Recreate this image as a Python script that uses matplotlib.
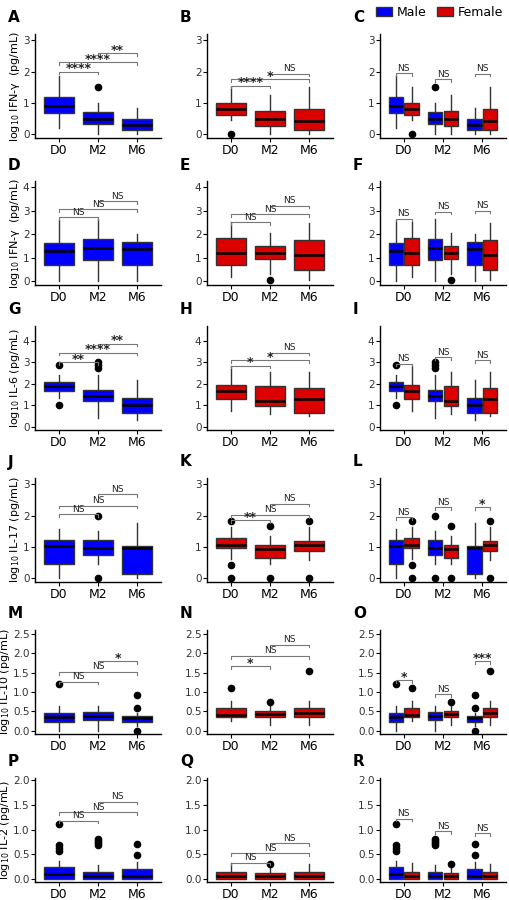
import matplotlib
matplotlib.use("Agg")
import matplotlib.pyplot as plt
from matplotlib.patches import Patch

times = ["D0", "M2", "M6"]
ylabels = ["log$_{10}$ IFN-γ  (pg/mL)", "log$_{10}$ IFN-γ  (pg/mL)", "log$_{10}$ IL-6 (pg/mL)",
           "log$_{10}$ IL-17 (pg/mL)", "log$_{10}$ IL-10 (pg/mL)", "log$_{10}$ IL-2 (pg/mL)"]
letters = "ABCDEFGHIJKLMNOPQR"
ylims = [(-0.12, 3.2), (-0.15, 4.25), (-0.15, 4.7), (-0.12, 3.2), (-0.08, 2.6), (-0.07, 2.05)]
yticks = [[0, 1, 2, 3], [0, 1, 2, 3, 4], [0, 1, 2, 3, 4], [0, 1, 2, 3],
          [0, .5, 1, 1.5, 2, 2.5], [0, .5, 1, 1.5, 2]]

# (q1, median, q3, whisker low, whisker high, fliers)
male = [
    [(.68, .9, 1.18, .2, 1.85, []), (.33, .48, .72, 0, 1.0, [1.5]), (.15, .3, .5, 0, .85, [])],
    [(.7, 1.3, 1.62, 0, 2.6, []), (.9, 1.4, 1.78, 0, 2.65, []), (.68, 1.38, 1.65, 0, 2.02, [])],
    [(1.68, 1.88, 2.1, 1.35, 2.42, [1.0, 2.9]), (1.18, 1.42, 1.72, .42, 2.42, [2.75, 2.9, 3.0]),
     (.65, 1.0, 1.35, .3, 2.2, [])],
    [(.47, 1.02, 1.23, 0, 1.58, []), (.73, .98, 1.23, .45, 1.52, [0, 2.0]), (.15, .97, 1.02, 0, 1.75, [])],
    [(.23, .35, .47, 0, .65, [1.2]), (.27, .38, .49, 0, .65, []), (.24, .32, .38, .12, .47, [0, .6, .92])],
    [(0, .1, .23, 0, .35, [.56, .62, .68, 1.12]), (0, .05, .14, 0, .27, [.68, .72, .76, .8]),
     (0, .05, .19, 0, .33, [.49, .7])],
]
female = [
    [(.6, .8, 1.0, .45, 1.5, [0]), (.25, .48, .75, 0, 1.25, []), (.15, .42, .8, 0, 1.5, [])],
    [(.68, 1.2, 1.85, .2, 2.5, []), (.95, 1.22, 1.52, .3, 2.05, [.05]), (.5, 1.12, 1.75, .05, 2.48, [])],
    [(1.28, 1.65, 1.95, .75, 2.85, []), (.98, 1.18, 1.88, .58, 2.55, []), (.65, 1.3, 1.82, .52, 2.55, [])],
    [(.98, 1.05, 1.3, .6, 1.65, [0, .43, 1.83]), (.65, .92, 1.07, .45, 1.35, [0, 1.68]),
     (.87, 1.07, 1.2, .58, 1.62, [0, 1.83])],
    [(.35, .42, .58, .25, .78, [1.1]), (.35, .43, .52, .15, .65, [.75]), (.35, .45, .58, .15, .78, [1.55])],
    [(0, .06, .14, 0, .32, []), (0, .05, .11, 0, .28, [.3]), (0, .06, .13, 0, .3, [])],
]
# brackets within-sex: (D0-M2, D0-M6, M2-M6) heights and labels
male_br = [[2.0, 2.3, 2.58], [2.72, 3.05, 3.4], [3.0, 3.45, 3.87], [2.05, 2.32, 2.68], [1.27, 1.52, 1.8], [1.18, 1.35, 1.57]]
male_lab = [["****", "****", "**"], ["NS"] * 3, ["**", "****", "**"], ["NS"] * 3, ["NS", "NS", "*"], ["NS"] * 3]
fem_br = [[1.55, 1.75, 1.93], [2.5, 2.85, 3.2], [2.85, 3.1, 3.45], [1.85, 2.02, 2.38], [1.66, 1.93, 2.22], [.32, .52, .72]]
fem_lab = [["****", "*", "NS"], ["NS"] * 3, ["*", "*", "NS"], ["**", "NS", "NS"], ["*", "NS", "NS"], ["NS"] * 3]
sex_br = [[1.95, 1.75, 1.93], [2.65, 2.95, 3.0], [2.95, 3.25, 3.1], [1.95, 2.27, 2.27], [1.3, .95, 1.8], [1.22, .96, .92]]
sex_lab = [["NS"] * 3, ["NS"] * 3, ["NS"] * 3, ["NS", "NS", "*"], ["*", "NS", "***"], ["NS"] * 3]

BLUE, RED = "#0000ff", "#dd0000"
W, H = 509, 900
fig = plt.figure(figsize=(W / 100, H / 100), dpi=100)
col_x = [35, 207, 380]
row_top = [34, 181, 326, 478, 630, 778]
aw, ah = 126, 104


def stats(t):
    q1, med, q3, lo, hi, fl = t
    return dict(q1=q1, med=med, q3=q3, whislo=lo, whishi=hi, fliers=fl)


def draw(ax, data, pos, width, color):
    ax.bxp([stats(t) for t in data], positions=pos, widths=width, patch_artist=True, manage_ticks=False,
           boxprops=dict(facecolor=color, edgecolor="#333333", linewidth=1.0),
           medianprops=dict(color="black", linewidth=1.8),
           whiskerprops=dict(color="#333333", linewidth=1.0), capprops=dict(linewidth=0),
           flierprops=dict(marker="o", markerfacecolor="black", markeredgecolor="black", markersize=4.5))


def bracket(ax, x1, x2, y, label, span):
    d = span * 0.025
    ax.plot([x1, x1, x2, x2], [y - d, y, y, y - d], color="#777777", lw=0.8, clip_on=False)
    star = "*" in label
    ax.text((x1 + x2) / 2, y - (span * 0.035 if star else -span * 0.005), label, ha="center", va="bottom",
            fontsize=9 if star else 6.5, fontweight="bold" if star else "normal", color="#222222")


for r in range(6):
    span = ylims[r][1] - ylims[r][0]
    for c in range(3):
        ax = fig.add_axes([col_x[c] / W, 1 - (row_top[r] + ah) / H, aw / W, ah / H])
        if c == 0:
            draw(ax, male[r], [1, 2, 3], 0.76, BLUE)
        elif c == 1:
            draw(ax, female[r], [1, 2, 3], 0.76, RED)
        else:
            draw(ax, male[r], [0.8, 1.8, 2.8], 0.36, BLUE)
            draw(ax, female[r], [1.2, 2.2, 3.2], 0.36, RED)
        if c < 2:
            hs = male_br[r] if c == 0 else fem_br[r]
            ls = male_lab[r] if c == 0 else fem_lab[r]
            for (a, b), h, l in zip([(1, 2), (1, 3), (2, 3)], hs, ls):
                bracket(ax, a, b, h, l, span)
        else:
            for i in range(3):
                bracket(ax, i + 0.8, i + 1.2, sex_br[r][i], sex_lab[r][i], span)
        ax.set_xlim(0.4, 3.6)
        ax.set_ylim(*ylims[r])
        ax.set_yticks(yticks[r])
        if r >= 4:
            ax.set_yticklabels([f"{v:.1f}" for v in yticks[r]])
        ax.set_xticks([1, 2, 3])
        ax.set_xticklabels(times)
        ax.tick_params(axis="x", labelsize=9, length=3, pad=1)
        ax.tick_params(axis="y", labelsize=7.5, length=3, pad=1, labelcolor="#333333")
        for s in ["top", "right"]:
            ax.spines[s].set_visible(False)
        for s in ["left", "bottom"]:
            ax.spines[s].set_linewidth(1.0)
        if c == 0:
            ax.set_ylabel(ylabels[r], fontsize=8, labelpad=0.5)
        fig.text((col_x[c] - 27) / W, 1 - (row_top[r] - 16) / H, letters[r * 3 + c],
                 fontsize=11, fontweight="bold", va="center", ha="left")

fig.legend(handles=[Patch(facecolor=BLUE, edgecolor="#333333", label="Male"),
                    Patch(facecolor=RED, edgecolor="#333333", label="Female")],
           loc="upper right", bbox_to_anchor=(1.0, 1.0), ncol=2, frameon=False, fontsize=9,
           handlelength=1.3, handletextpad=0.4, columnspacing=0.8, borderaxespad=0.05)
fig.savefig("out.png", dpi=100)
